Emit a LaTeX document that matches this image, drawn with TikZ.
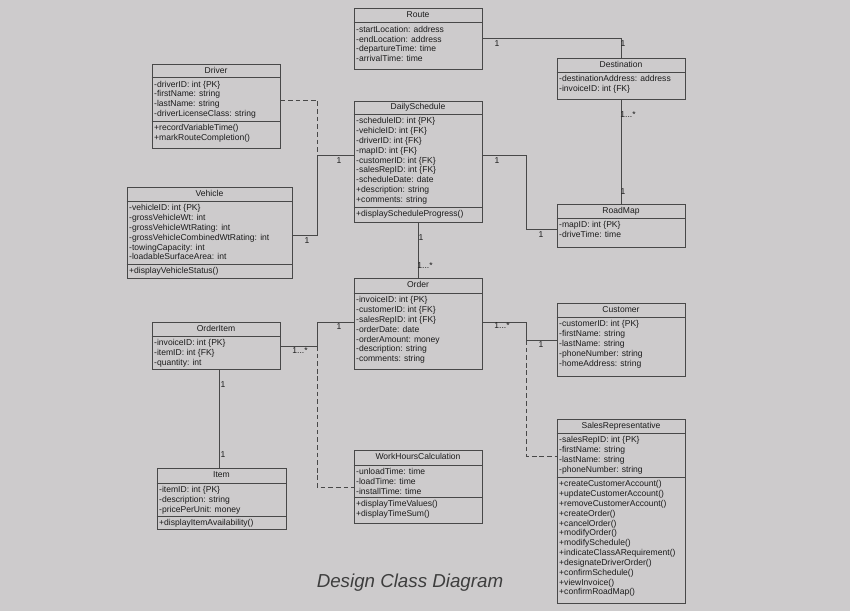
\documentclass[tikz,border=0pt]{standalone}
\usepackage{fontspec}
\setmainfont{Liberation Sans}
\usetikzlibrary{fit}

\definecolor{paper}{RGB}{205,203,204}
\definecolor{edge}{RGB}{72,72,72}
\definecolor{ink}{RGB}{28,28,28}

\tikzset{
  classbox/.style={draw=edge, line width=0.7pt, inner sep=0pt},
  ctitle/.style={text=ink, font=\fontsize{7.3}{8.4}\selectfont, inner sep=0pt, text height=5.3pt, text depth=1.3pt},
  members/.style={text=ink, font=\fontsize{7.3}{8.4}\selectfont, inner sep=0pt, anchor=north west, align=left},
  divider/.style={draw=edge, line width=0.7pt},
  assoc/.style={draw=edge, line width=0.7pt},
  dashlink/.style={draw=edge, line width=0.7pt, dash pattern=on 4pt off 2.5pt},
  mult/.style={text=ink, font=\fontsize{7.3}{8.4}\selectfont, inner sep=0pt},
}

\begin{document}
\begin{tikzpicture}[x=0.03cm, y=-0.03cm]
            \fill[paper] (0,0) rectangle (850,611);

            % Route
            \node[classbox, fit={(354,8) (482,69)}] (route) {};
            \node[ctitle] (routeT) at (418,15.3) {Route};
            \draw[divider] (route.west |- 0,22.5) -- (route.east |- 0,22.5);
            \node[members] (routeA) at (356,25.8) {-startLocation: address\\-endLocation: address\\-departureTime: time\\-arrivalTime: time};

            % Driver
            \node[classbox, fit={(152,64) (280,148)}] (driver) {};
            \node[ctitle] (driverT) at (216,70.7) {Driver};
            \draw[divider] (driver.west |- 0,77.3) -- (driver.east |- 0,77.3);
            \node[members] (driverA) at (154,80.6) {-driverID: int \{PK\}\\-firstName: string\\-lastName: string\\-driverLicenseClass: string};
            \draw[divider] (driver.west |- 0,121) -- (driver.east |- 0,121);
            \node[members] (driverM) at (154,124.3) {+recordVariableTime()\\+markRouteCompletion()};

            % DailySchedule
            \node[classbox, fit={(354,101) (482,222)}] (daily) {};
            \node[ctitle] (dailyT) at (418,107.5) {DailySchedule};
            \draw[divider] (daily.west |- 0,114) -- (daily.east |- 0,114);
            \node[members] (dailyA) at (356,117.3) {-scheduleID: int \{PK\}\\-vehicleID: int \{FK\}\\-driverID: int \{FK\}\\-mapID: int \{FK\}\\-customerID: int \{FK\}\\-salesRepID: int \{FK\}\\-scheduleDate: date\\+description: string\\+comments: string};
            \draw[divider] (daily.west |- 0,207) -- (daily.east |- 0,207);
            \node[members] (dailyM) at (356,210.3) {+displayScheduleProgress()};

            % Vehicle
            \node[classbox, fit={(127,187) (292,278)}] (vehicle) {};
            \node[ctitle] (vehicleT) at (209.5,194) {Vehicle};
            \draw[divider] (vehicle.west |- 0,201) -- (vehicle.east |- 0,201);
            \node[members] (vehicleA) at (129,204.3) {-vehicleID: int \{PK\}\\-grossVehicleWt: int\\-grossVehicleWtRating: int\\-grossVehicleCombinedWtRating: int\\-towingCapacity: int\\-loadableSurfaceArea: int};
            \draw[divider] (vehicle.west |- 0,264) -- (vehicle.east |- 0,264);
            \node[members] (vehicleM) at (129,267.3) {+displayVehicleStatus()};

            % Order
            \node[classbox, fit={(354,278) (482,369)}] (order) {};
            \node[ctitle] (orderT) at (418,285.5) {Order};
            \draw[divider] (order.west |- 0,293) -- (order.east |- 0,293);
            \node[members] (orderA) at (356,296.3) {-invoiceID: int \{PK\}\\-customerID: int \{FK\}\\-salesRepID: int \{FK\}\\-orderDate: date\\-orderAmount: money\\-description: string\\-comments: string};

            % OrderItem
            \node[classbox, fit={(152,322) (280,369)}] (orderitem) {};
            \node[ctitle] (orderitemT) at (216,329) {OrderItem};
            \draw[divider] (orderitem.west |- 0,336) -- (orderitem.east |- 0,336);
            \node[members] (orderitemA) at (154,339.3) {-invoiceID: int \{PK\}\\-itemID: int \{FK\}\\-quantity: int};

            % Destination
            \node[classbox, fit={(557,58) (685,99)}] (dest) {};
            \node[ctitle] (destT) at (621,65) {Destination};
            \draw[divider] (dest.west |- 0,72) -- (dest.east |- 0,72);
            \node[members] (destA) at (559,75.3) {-destinationAddress: address\\-invoiceID: int \{FK\}};

            % RoadMap
            \node[classbox, fit={(557,204) (685,247)}] (roadmap) {};
            \node[ctitle] (roadmapT) at (621,211) {RoadMap};
            \draw[divider] (roadmap.west |- 0,218) -- (roadmap.east |- 0,218);
            \node[members] (roadmapA) at (559,221.3) {-mapID: int \{PK\}\\-driveTime: time};

            % Customer
            \node[classbox, fit={(557,303) (685,376)}] (customer) {};
            \node[ctitle] (customerT) at (621,310) {Customer};
            \draw[divider] (customer.west |- 0,317) -- (customer.east |- 0,317);
            \node[members] (customerA) at (559,320.3) {-customerID: int \{PK\}\\-firstName: string\\-lastName: string\\-phoneNumber: string\\-homeAddress: string};

            % Item
            \node[classbox, fit={(157,468) (286,529)}] (item) {};
            \node[ctitle] (itemT) at (221.5,475.5) {Item};
            \draw[divider] (item.west |- 0,483) -- (item.east |- 0,483);
            \node[members] (itemA) at (159,486.3) {-itemID: int \{PK\}\\-description: string\\-pricePerUnit: money};
            \draw[divider] (item.west |- 0,516) -- (item.east |- 0,516);
            \node[members] (itemM) at (159,519.3) {+displayItemAvailability()};

            % WorkHoursCalculation
            \node[classbox, fit={(354,450) (482,523)}] (workhours) {};
            \node[ctitle] (workhoursT) at (418,457.5) {WorkHoursCalculation};
            \draw[divider] (workhours.west |- 0,465) -- (workhours.east |- 0,465);
            \node[members] (workhoursA) at (356,468.3) {-unloadTime: time\\-loadTime: time\\-installTime: time};
            \draw[divider] (workhours.west |- 0,497) -- (workhours.east |- 0,497);
            \node[members] (workhoursM) at (356,500.3) {+displayTimeValues()\\+displayTimeSum()};

            % SalesRepresentative
            \node[classbox, fit={(557,419) (685,603)}] (salesrep) {};
            \node[ctitle] (salesrepT) at (621,426) {SalesRepresentative};
            \draw[divider] (salesrep.west |- 0,433) -- (salesrep.east |- 0,433);
            \node[members] (salesrepA) at (559,436.3) {-salesRepID: int \{PK\}\\-firstName: string\\-lastName: string\\-phoneNumber: string};
            \draw[divider] (salesrep.west |- 0,477) -- (salesrep.east |- 0,477);
            \node[members] (salesrepM) at (559,480.3) {+createCustomerAccount()\\+updateCustomerAccount()\\+removeCustomerAccount()\\+createOrder()\\+cancelOrder()\\+modifyOrder()\\+modifySchedule()\\+indicateClassARequirement()\\+designateDriverOrder()\\+confirmSchedule()\\+viewInvoice()\\+confirmRoadMap()};

            % junctions
            \coordinate (jVeh) at (317,155);
            \coordinate (jItem) at (317,346);
            \coordinate (jCust) at (526,340);

            % associations
            \draw[assoc] (route.east) -| (dest.north);
            \draw[assoc] (dest.south) -- (roadmap.north);
            \draw[assoc] (daily.east |- 0,155) -| (526,229) -- (roadmap.west |- 0,229);
            \draw[assoc] (vehicle.east |- 0,235) -| (jVeh) -- (daily.west |- jVeh);
            \draw[assoc] (daily.south) -- (order.north);
            \draw[assoc] (orderitem.east |- jItem) -- (jItem) |- (order.west |- 0,322);
            \draw[assoc] (order.east |- 0,322) -| (jCust) -- (customer.west |- jCust);
            \draw[assoc] (orderitem.south -| 219,0) -- (item.north -| 219,0);
            \draw[dashlink] (driver.east |- 0,100) -| (jVeh);
            \draw[dashlink] (jItem) |- (workhours.west |- 0,487);
            \draw[dashlink] (jCust) |- (salesrep.west |- 0,456);

            % multiplicities
            \node[mult] (m1) at (497,44) {1};
            \node[mult] (m2) at (623,44) {1};
            \node[mult] (m3) at (628,115) {1...*};
            \node[mult] (m4) at (623,192) {1};
            \node[mult] (m5) at (497,161) {1};
            \node[mult] (m6) at (541,235) {1};
            \node[mult] (m7) at (339,161) {1};
            \node[mult] (m8) at (307,241) {1};
            \node[mult] (m9) at (421,238) {1};
            \node[mult] (m10) at (425,266) {1...*};
            \node[mult] (m11) at (339,327) {1};
            \node[mult] (m12) at (300,351) {1...*};
            \node[mult] (m13) at (502,326) {1...*};
            \node[mult] (m14) at (541,345) {1};
            \node[mult] (m15) at (223,385) {1};
            \node[mult] (m16) at (223,455) {1};

            \node[text=ink!85, font=\fontsize{16}{19}\selectfont\itshape] (caption) at (410,583) {Design Class Diagram};
        \end{tikzpicture}
\end{document}
